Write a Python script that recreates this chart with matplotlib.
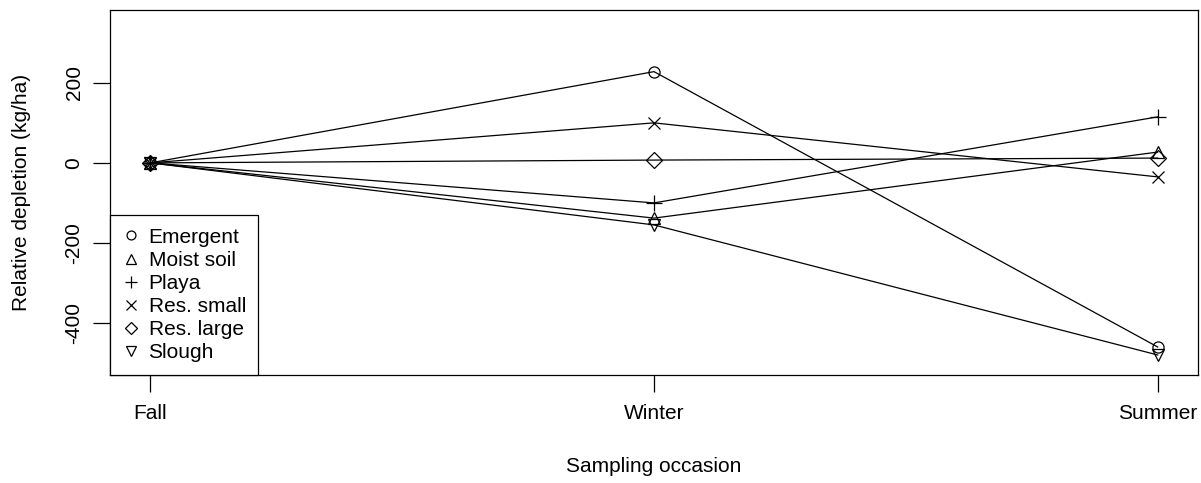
import numpy as np
import matplotlib.pyplot as plt

plt.rcParams['font.family'] = ['Liberation Sans', 'DejaVu Sans']

# sampling occasions and relative depletion per habitat type
occasions = ['Fall', 'Winter', 'Summer']
habitats = ['Emergent', 'Moist soil', 'Playa', 'Res. small', 'Res. large', 'Slough']
emergent = [0, 228, -460]
moist_soil = [0, -138, 27]
playa = [0, -100, 115]
res_small = [0, 100, -35]
res_large = [0, 7, 12]
slough = [0, -155, -480]

series = [emergent, moist_soil, playa, res_small, res_large, slough]
markers = ['o', '^', '+', 'x', 'D', 'v']
sizes = [8, 9, 11, 9, 8, 9]

fig = plt.figure(figsize=(12.01, 4.83), dpi=100)
ax = fig.add_axes([110 / 1201, 108 / 483, 1088 / 1201, 365 / 483])

x = np.arange(1, len(occasions) + 1)
for name, vals, m, s in zip(habitats, series, markers, sizes):
    ax.plot(x, vals, color='black', linewidth=0.9, marker=m, markersize=s,
            markerfacecolor='none', markeredgecolor='black', markeredgewidth=0.9,
            label=name)

ax.set_xlim(0.92, 3.08)
ax.set_ylim(-530, 382)
ax.set_xticks(x)
ax.set_xticklabels(occasions, fontsize=15)
ax.set_yticks([-400, -200, 0, 200])
ax.set_yticklabels(['-400', '-200', '0', '200'], fontsize=15, rotation=90, va='center')
ax.tick_params(length=12, width=0.9)
ax.tick_params(axis='x', pad=9)
ax.tick_params(axis='y', pad=7)
for sp in ax.spines.values():
    sp.set_linewidth(0.9)

ax.set_xlabel('Sampling occasion', fontsize=15, labelpad=24)
ax.set_ylabel('Relative depletion (kg/ha)', fontsize=15, labelpad=24)

leg = ax.legend(loc='lower left', bbox_to_anchor=(0, 0), borderaxespad=0,
                fancybox=False, edgecolor='black', framealpha=1,
                fontsize=15, handlelength=0.8, handletextpad=0.45,
                labelspacing=0.2, borderpad=0.6, markerscale=0.8)
leg.get_frame().set_linewidth(0.9)
for h in leg.get_lines():
    h.set_linestyle('none')

fig.savefig('out.png', dpi=100)
